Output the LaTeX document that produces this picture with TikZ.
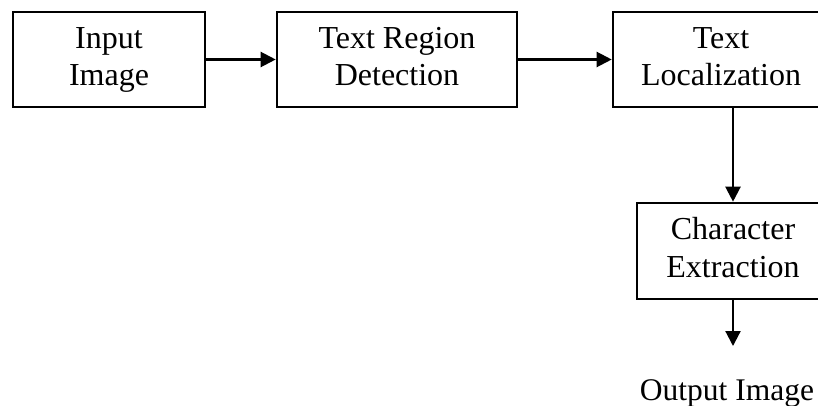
\documentclass[tikz,border=0pt]{standalone}
\usepackage{fontspec}
\setmainfont{Liberation Serif}
\usetikzlibrary{arrows.meta}
\newcommand{\twolines}[2]{\strut #1\\\strut #2}
\begin{document}
\begin{tikzpicture}[x=1pt,y=-1pt,
  stagebox/.style={draw, line width=2.6pt, rectangle, inner sep=0pt,
    minimum height=95pt, align=center,
    font=\fontsize{32}{37.5}\selectfont},
  flow/.style={line width=2.2pt, -{Triangle[length=15pt,width=15pt]}},
  plainlabel/.style={font=\fontsize{31.5}{37.5}\selectfont, inner sep=0pt}]
  \clip (0,0) rectangle (818,406);
  \node[stagebox, minimum width=192pt] (in)  at (109,59.5) {\twolines{Input}{Image}};
  \node[stagebox, minimum width=240pt] (trd) at (397,59.5) {\twolines{Text Region}{Detection}};
  \node[stagebox, minimum width=216pt] (tl)  at (721,59.5) {\twolines{Text}{Localization}};
  \node[stagebox, minimum width=192pt, minimum height=96pt] (ce) at (733,251) {\twolines{Character}{Extraction}};
  \node[plainlabel, anchor=base] (out) at (727,400) {Output Image};
  \coordinate (oend) at (733,346);
  \draw[flow] (in) -- (trd);
  \draw[flow] (trd) -- (tl);
  \draw[flow] (tl.south -| ce.north) -- (ce.north);
  \draw[flow] (ce.south) -- (oend);
\end{tikzpicture}
\end{document}
